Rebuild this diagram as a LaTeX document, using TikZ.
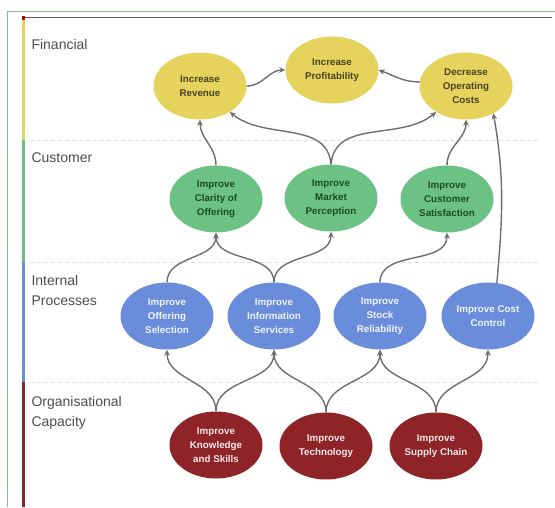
\documentclass[tikz,border=0pt]{standalone}
\usepackage{fontspec}
\setmainfont{Liberation Sans}
\usepackage{tikz}
\usetikzlibrary{shapes.geometric,arrows.meta}

\definecolor{finfill}{HTML}{E6D35E}
\definecolor{fintext}{HTML}{4A4120}
\definecolor{custfill}{HTML}{6CC285}
\definecolor{custtext}{HTML}{1C4B24}
\definecolor{procfill}{HTML}{6A8DDB}
\definecolor{proctext}{HTML}{F0F3FF}
\definecolor{capfill}{HTML}{8E2328}
\definecolor{captext}{HTML}{F7E9E9}
\definecolor{linkgray}{HTML}{6E6E6E}
\definecolor{framegreen}{HTML}{7DC37D}

\begin{document}
\begin{tikzpicture}[x=1pt,y=1pt,
    goal/.style={ellipse, minimum width=93pt, minimum height=67pt, inner sep=0pt,
        align=center, font=\fontsize{9.8}{14}\selectfont\bfseries},
    fin/.style={goal, fill=finfill, text=fintext},
    cust/.style={goal, fill=custfill, text=custtext},
    proc/.style={goal, fill=procfill, text=proctext},
    capac/.style={goal, fill=capfill, text=captext},
    layer/.style={anchor=west, align=left, text=black!70,
        font=\fontsize{14}{20}\selectfont},
    link/.style={draw=linkgray, line width=1.4pt,
        -{Stealth[length=6pt,width=5.5pt]}},
    sep/.style={draw=black!12, dash pattern=on 4pt off 3pt, line width=0.6pt}]
    \useasboundingbox (0,0) rectangle (555,-507);

    % the frame round the picture
    \draw[framegreen, line width=0.8pt] (7,-507) -- (7,-11) -- (555,-11);
    \draw[black!65, line width=1pt] (24,-17) -- (552,-17);

    % the coloured bar on the left
    \fill[red!70!black] (22,-16) rectangle (25,-20);
    \fill[finfill] (22,-20) rectangle (25,-140);
    \fill[custfill] (22,-140) rectangle (25,-262);
    \fill[procfill] (22,-262) rectangle (25,-382);
    \fill[capfill] (22,-382) rectangle (25,-507);

    % faint lines between the layers
    \draw[sep] (30,-140) -- (540,-140);
    \draw[sep] (30,-262) -- (540,-262);
    \draw[sep] (30,-382) -- (540,-382);

    % the layer names
    \node[layer] (lfin) at (28,-44) {Financial};
    \node[layer] (lcust) at (28,-158) {Customer};
    \node[layer] (lproc) at (28,-290) {Internal\\Processes};
    \node[layer] (lcap) at (28,-413) {Organisational\\Capacity};

    % the objectives
    \node[fin] (rev) at (200,-86) {Increase\\Revenue};
    \node[fin] (prof) at (332,-70) {Increase\\Profitability};
    \node[fin] (cost) at (466,-86) {Decrease\\Operating\\Costs};

    \node[cust] (clar) at (216,-199) {Improve\\Clarity of\\Offering};
    \node[cust] (mkt) at (331,-198) {Improve\\Market\\Perception};
    \node[cust] (sat) at (447,-199) {Improve\\Customer\\Satisfaction};

    \node[proc] (sel) at (167,-316) {Improve\\Offering\\Selection};
    \node[proc] (info) at (274,-316) {Improve\\Information\\Services};
    \node[proc] (stock) at (380,-316) {Improve\\Stock\\Reliability};
    \node[proc] (ctrl) at (488,-316) {Improve Cost\\Control};

    \node[capac] (know) at (216,-445) {Improve\\Knowledge\\and Skills};
    \node[capac] (tech) at (326,-446) {Improve\\Technology};
    \node[capac] (supply) at (436,-446) {Improve\\Supply Chain};

    % draw the arrows
    \draw[link] (rev.east) to[out=0, in=180] (prof.west);
    \draw[link] (cost.175) to[out=180, in=-20] (prof.east);

    \draw[link] (clar.north) to[out=90, in=-90] (rev.south);
    \draw[link] (mkt.north) to[out=95, in=-40] (rev.-41);
    \draw[link] (mkt.north) to[out=85, in=-140] (cost.-139);
    \draw[link] (sat.north) to[out=90, in=-90] (cost.south);

    \draw[link] (sel.north) to[out=90, in=-90] (clar.south);
    \draw[link] (info.north) to[out=90, in=-90] (clar.south);
    \draw[link] (info.north) to[out=90, in=-90] (mkt.south);
    \draw[link] (stock.north) to[out=90, in=-90] (sat.south);
    \draw[link] (ctrl.75) to[out=85, in=-80] (cost.-45);

    \draw[link] (know.north) to[out=90, in=-90] (sel.south);
    \draw[link] (know.north) to[out=90, in=-90] (info.south);
    \draw[link] (tech.north) to[out=90, in=-90] (info.south);
    \draw[link] (tech.north) to[out=90, in=-90] (stock.south);
    \draw[link] (supply.north) to[out=90, in=-90] (stock.south);
    \draw[link] (supply.north) to[out=90, in=-90] (ctrl.south);

\end{tikzpicture}
\end{document}
